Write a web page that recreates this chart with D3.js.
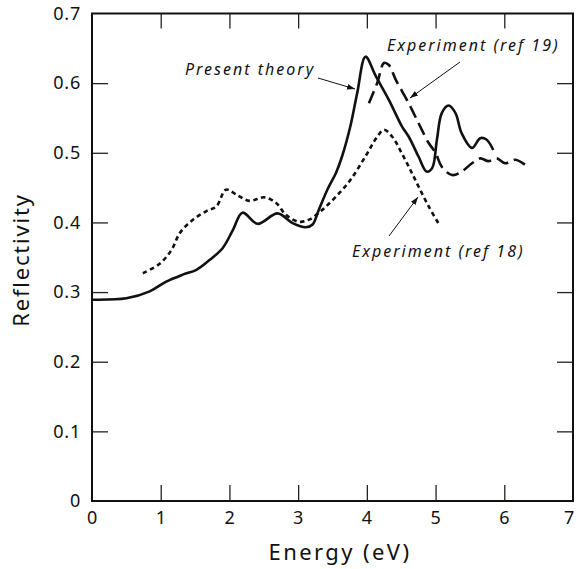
<!DOCTYPE html>
<html>
<head>
<meta charset="utf-8">
<script src="https://cdn.jsdelivr.net/npm/d3@7"></script>
<style>
  body { margin: 0; background: #fff; }
  svg text { font-family: "Noto Sans", "DejaVu Sans", sans-serif; fill: #111; }
</style>
</head>
<body>
<div id="chart"></div>
<script>
// data (energy in eV, reflectivity)
const theoryE = [0, 0.5, 0.84, 1.08, 1.32, 1.52, 1.71, 1.90, 2.05, 2.19, 2.41, 2.70, 2.92, 3.11, 3.21, 3.30, 3.43, 3.55, 3.64, 3.76, 3.86, 3.98, 4.13, 4.32, 4.51, 4.61, 4.75, 4.87, 4.95, 5.02, 5.09, 5.19, 5.29, 5.38, 5.53, 5.65, 5.74, 5.84];
const theoryR = [0.289, 0.291, 0.301, 0.315, 0.325, 0.332, 0.346, 0.363, 0.389, 0.414, 0.398, 0.413, 0.399, 0.393, 0.397, 0.418, 0.448, 0.471, 0.495, 0.538, 0.586, 0.638, 0.610, 0.576, 0.538, 0.523, 0.495, 0.473, 0.478, 0.519, 0.557, 0.568, 0.557, 0.528, 0.507, 0.521, 0.519, 0.504];

const ref19E = [4.03, 4.15, 4.25, 4.32, 4.42, 4.61, 4.75, 4.90, 5.00, 5.09, 5.24, 5.38, 5.53, 5.65, 5.77, 5.89, 6.01, 6.16, 6.30];
const ref19R = [0.571, 0.600, 0.629, 0.626, 0.605, 0.571, 0.543, 0.514, 0.500, 0.480, 0.468, 0.473, 0.485, 0.492, 0.488, 0.492, 0.485, 0.490, 0.483];

const ref18E = [0.74, 0.99, 1.16, 1.28, 1.47, 1.66, 1.81, 1.95, 2.10, 2.29, 2.51, 2.68, 2.82, 3.01, 3.16, 3.35, 3.55, 3.76, 3.98, 4.15, 4.25, 4.37, 4.51, 4.63, 4.75, 4.90, 5.04];
const ref18R = [0.327, 0.341, 0.361, 0.385, 0.404, 0.416, 0.423, 0.447, 0.440, 0.431, 0.436, 0.428, 0.411, 0.401, 0.404, 0.418, 0.437, 0.461, 0.495, 0.523, 0.533, 0.523, 0.499, 0.476, 0.452, 0.423, 0.399];

const xTicks = [0, 1, 2, 3, 4, 5, 6, 7];
const yTicks = [0, 0.1, 0.2, 0.3, 0.4, 0.5, 0.6, 0.7];

const width = 577, height = 569;
const margin = {top: 13.5, right: 4, bottom: 68, left: 92};
const graphWidth = width - margin.left - margin.right;
const graphHeight = height - margin.top - margin.bottom;

const svg = d3.select('#chart')
    .append('svg')
    .attr('width', width)
    .attr('height', height);

const graph = svg.append('g')
    .attr('transform', `translate(${margin.left}, ${margin.top})`);

const x = d3.scaleLinear().domain([0, 7]).range([0, graphWidth]);
const y = d3.scaleLinear().domain([0, 0.7]).range([graphHeight, 0]);

// axes, ticks pointing inward
const inner = v => v > 0 && v < 7;
const innerY = v => v > 0.001 && v < 0.69;

const xAxisGroup = graph.append('g')
    .attr('transform', `translate(0, ${graphHeight})`)
    .call(d3.axisBottom(x).tickValues(xTicks).tickSize(-16).tickPadding(10).tickFormat(d3.format('d')));
const yAxisGroup = graph.append('g')
    .call(d3.axisLeft(y).tickValues(yTicks).tickSize(-16).tickPadding(11)
        .tickFormat(d => d === 0 ? '0' : d3.format('.1f')(d)));
const topGroup = graph.append('g')
    .call(d3.axisTop(x).tickValues(xTicks.filter(inner)).tickSize(-15).tickFormat(''));
const rightGroup = graph.append('g')
    .attr('transform', `translate(${graphWidth}, 0)`)
    .call(d3.axisRight(y).tickValues(yTicks.filter(innerY)).tickSize(-16).tickFormat(''));

[xAxisGroup, yAxisGroup, topGroup, rightGroup].forEach(g => {
    g.select('.domain').remove();
    g.selectAll('line').attr('stroke', '#222').attr('stroke-width', 1.3);
    g.selectAll('text').style('font-size', '18px').style('letter-spacing', '0.8px').attr('fill', '#111');
});
xAxisGroup.selectAll('.tick').filter(d => !inner(d)).select('line').remove();
yAxisGroup.selectAll('.tick').filter(d => !innerY(d)).select('line').remove();
// keep the last label inside the page
xAxisGroup.selectAll('.tick').filter(d => d === 7).select('text').attr('dx', -4);

graph.append('rect')
    .attr('width', graphWidth)
    .attr('height', graphHeight)
    .attr('fill', 'none')
    .attr('stroke', '#111')
    .attr('stroke-width', 2);

// curves
const line = d3.line()
    .x(d => x(d[0]))
    .y(d => y(d[1]))
    .curve(d3.curveCatmullRom.alpha(0.5));

const series = [
    {e: theoryE, r: theoryR, dash: null},
    {e: ref19E, r: ref19R, dash: '13,6'},
    {e: ref18E, r: ref18R, dash: '4.5,3.5'}
];
series.forEach(s => {
    graph.append('path')
        .datum(s.e.map((v, i) => [v, s.r[i]]))
        .attr('d', line)
        .attr('fill', 'none')
        .attr('stroke', '#111')
        .attr('stroke-width', 2.6)
        .attr('stroke-dasharray', s.dash);
});

// annotations with arrows
svg.append('defs').append('marker')
    .attr('id', 'arrow')
    .attr('viewBox', '0 0 10 10')
    .attr('refX', 10).attr('refY', 5)
    .attr('markerWidth', 8).attr('markerHeight', 8)
    .attr('orient', 'auto')
    .append('path')
    .attr('d', 'M0,1.5 L10,5 L0,8.5 Z')
    .attr('fill', '#111');

const notes = [
    {text: 'Present theory', tx: 185, ty: 75, from: [318, 78], to: [355, 89]},
    {text: 'Experiment (ref 19)', tx: 387, ty: 51, from: [460, 62], to: [410, 98]},
    {text: 'Experiment (ref 18)', tx: 352, ty: 257, from: [389, 236], to: [418, 197]}
];
notes.forEach(n => {
    svg.append('text')
        .attr('x', n.tx).attr('y', n.ty)
        .style('font-size', '16px')
        .style('font-style', 'italic')
        .style('letter-spacing', '2px')
        .text(n.text);
    svg.append('line')
        .attr('x1', n.from[0]).attr('y1', n.from[1])
        .attr('x2', n.to[0]).attr('y2', n.to[1])
        .attr('stroke', '#111')
        .attr('stroke-width', 1)
        .attr('marker-end', 'url(#arrow)');
});

// axis labels
svg.append('text')
    .attr('transform', `translate(340, 560)`)
    .style('font-size', '22px')
    .style('letter-spacing', '2.4px')
    .style('text-anchor', 'middle')
    .text('Energy (eV)');
svg.append('text')
    .attr('transform', `translate(29, 260) rotate(-90)`)
    .style('font-size', '22px')
    .style('letter-spacing', '1.8px')
    .style('text-anchor', 'middle')
    .text('Reflectivity');
</script>
</body>
</html>
